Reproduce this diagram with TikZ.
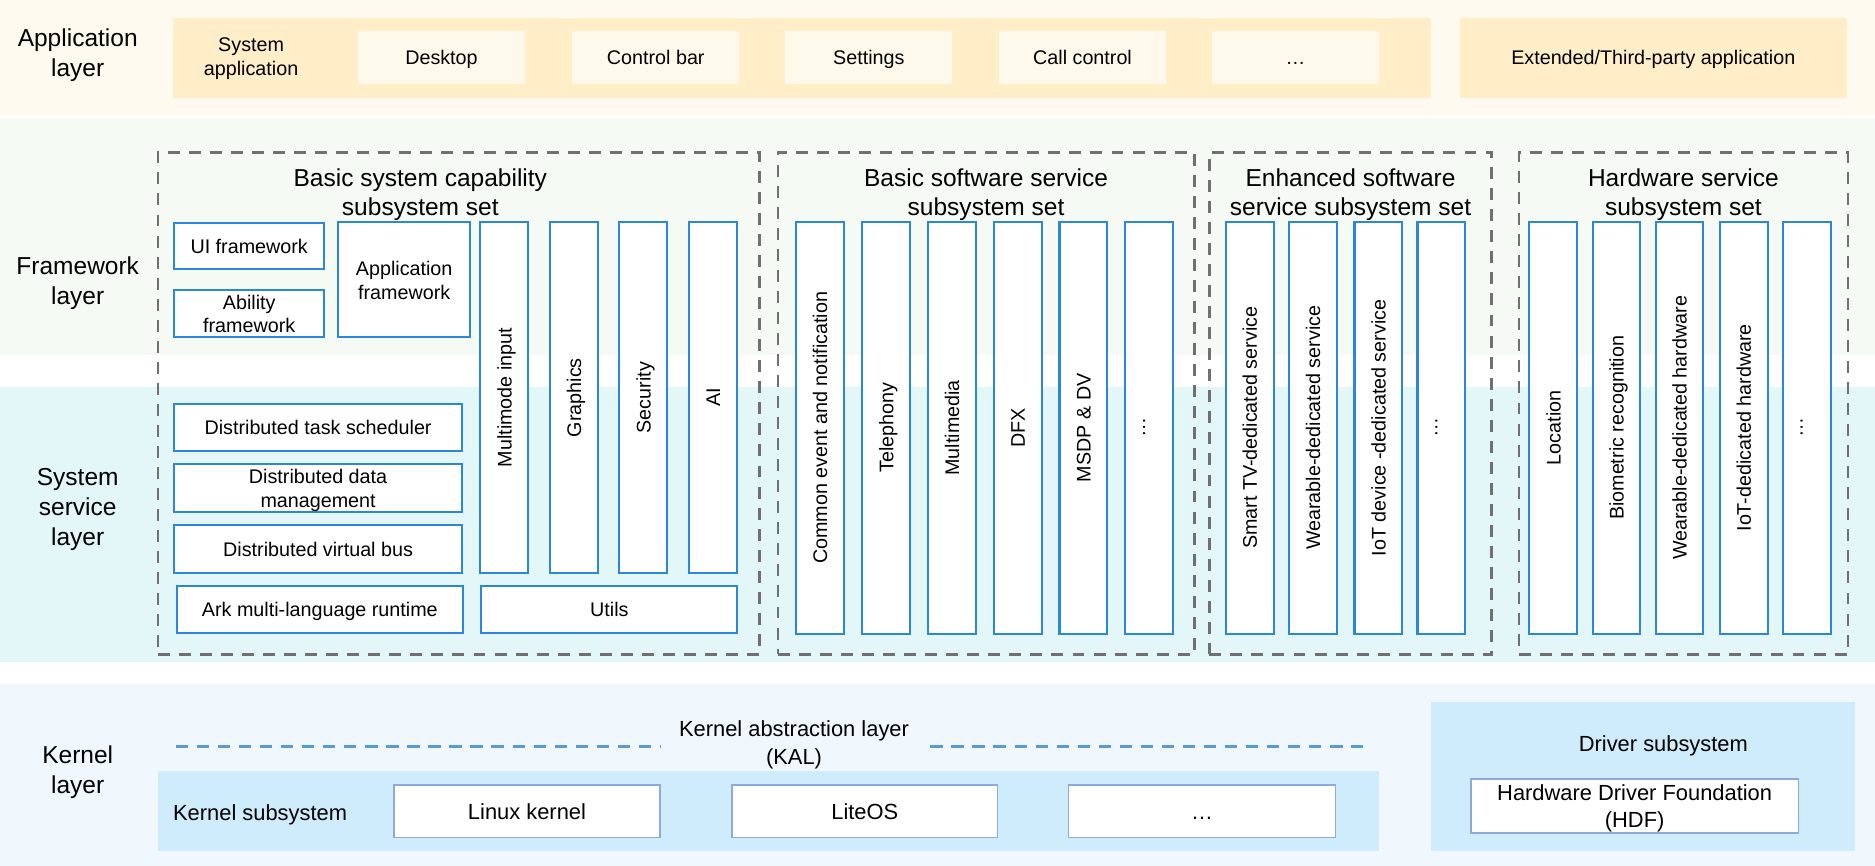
\documentclass[tikz,border=0pt]{standalone}
\usepackage{fontspec}
\setmainfont{Liberation Sans}
\definecolor{appbg}{HTML}{FFFAEF}
\definecolor{appgrp}{HTML}{FFEEC7}
\definecolor{appcell}{HTML}{FFF9EC}
\definecolor{fwbg}{HTML}{F5FAF5}
\definecolor{ssbg}{HTML}{E3F7F8}
\definecolor{kbg}{HTML}{F0F8FD}
\definecolor{ksubbg}{HTML}{CFECFC}
\definecolor{boxblue}{HTML}{2B87DA}
\definecolor{kline}{HTML}{8EAADB}
\definecolor{setgray}{HTML}{707070}
\definecolor{kaldash}{HTML}{5B9BD5}

\def\colH{344.5pt}
\def\colY{357.75}

\begin{document}
\begin{tikzpicture}[x=1pt,y=-1pt]
    \tikzset{
      layer/.style={align=center,font=\fontsize{20.5}{25}\selectfont,text height=45pt,text depth=4.3pt},
      settitle/.style={align=center,font=\fontsize{20.5}{25}\selectfont,text height=44.5pt,text depth=4.3pt},
      lbl/.style={align=center,font=\fontsize{16.5}{20}\selectfont,text height=15.5pt,text depth=3.5pt},
      two/.style={text height=36pt,text depth=3.5pt},
      klbl/.style={align=center,font=\fontsize{18.3}{23}\selectfont,text height=17.2pt,text depth=3.9pt},
      ktwo/.style={text height=40pt,text depth=3.9pt},
      cell/.style={lbl,fill=appcell,minimum width=139.6pt,minimum height=44pt,inner sep=0pt},
      blk/.style={lbl,draw=boxblue,line width=1.7pt,fill=white,inner sep=0pt},
      col/.style={blk,rotate=90,minimum height=40pt,minimum width=#1},
      col/.default=\colH,
      vdots/.style={rotate=180,text height=10pt,text depth=0pt},
      subset/.style={draw=setgray,line width=2.2pt,dash pattern=on 10pt off 7.6pt,
        minimum height=419.8pt,inner sep=0pt},
      kbox/.style={klbl,draw=kline,line width=1.3pt,fill=white,inner sep=0pt},
      kal/.style={draw=kaldash,line width=2.5pt,dash pattern=on 10.3pt off 7.3pt}
    }
    \useasboundingbox (0,0) rectangle (1568,724);
    \fill[white] (0,0) rectangle (1568,724);

    % layer bands
    \fill[appbg] (0,0) rectangle (1568,96.3);
    \fill[fwbg] (0,99) rectangle (1568,297);
    \fill[ssbg] (0,323.6) rectangle (1568,554);
    \fill[kbg] (0,572) rectangle (1568,724);

    \node[layer] (lapp) at (65,43.5) {Application\\layer};
    \node[layer] (lfw) at (65,234.5) {Framework\\layer};
    \node[layer,text height=70pt] (lss) at (65,423) {System\\service\\layer};
    \node[layer] (lk) at (65,643.5) {Kernel\\layer};

    % application layer
    \node[fill=appgrp,minimum width=1052pt,minimum height=66.7pt,inner sep=0pt] (sysapp) at (671,48.35) {};
    \node[lbl,two] (sysapplbl) at (210,47) {System\\application};
    \node[cell] (desk) at (369.2,48) {Desktop};
    \node[cell] (cbar) at (548.4,48) {Control bar};
    \node[cell] (sett) at (726.6,48) {Settings};
    \node[cell] (call) at (905.3,48) {Call control};
    \node[cell] (appmore) at (1083.3,48) {…};
    \node[lbl,fill=appgrp,minimum width=324pt,minimum height=66.7pt,inner sep=0pt] (ext) at (1382.6,48.35) {Extended/Third-party application};

    % subsystem sets
    \node[subset,minimum width=503.3pt] (set1) at (383.65,337.3) {};
    \node[subset,minimum width=348.2pt] (set2) at (824.6,337.3) {};
    \node[subset,minimum width=236.2pt] (set3) at (1129.4,337.3) {};
    \node[subset,minimum width=275.1pt] (set4) at (1407.75,337.3) {};
    \node[settitle] (t1) at (351.5,160.5) {Basic system capability\\subsystem set};
    \node[settitle] (t2) at (824.6,160.5) {Basic software service\\subsystem set};
    \node[settitle] (t3) at (1129.4,160.5) {Enhanced software\\service subsystem set};
    \node[settitle] (t4) at (1407.75,160.5) {Hardware service\\subsystem set};

    % basic system capability
    \node[blk,minimum width=125.7pt,minimum height=39pt] (ui) at (208.4,205.6) {UI framework};
    \node[blk,two,minimum width=125.7pt,minimum height=39.5pt] (ability) at (208.4,262.2) {Ability\\framework};
    \node[blk,two,minimum width=110pt,minimum height=96pt] (appfw) at (338,234) {Application\\framework};
    \node[col=293pt] (mmi) at (421.75,332.5) {Multimode input};
    \node[col=293pt] (gfx) at (480,332.5) {Graphics};
    \node[col=293pt] (sec) at (538,332.5) {Security};
    \node[col=293pt] (ai) at (596.3,332.5) {AI};
    \node[blk,minimum width=241pt,minimum height=39.4pt] (dts) at (266,357.3) {Distributed task scheduler};
    \node[blk,two,minimum width=241pt,minimum height=40pt] (ddm) at (266,408) {Distributed data\\management};
    \node[blk,minimum width=241pt,minimum height=40pt] (dvb) at (266,459) {Distributed virtual bus};
    \node[blk,minimum width=239pt,minimum height=39pt] (ark) at (267.5,509.5) {Ark multi-language runtime};
    \node[blk,minimum width=214pt,minimum height=39pt] (utils) at (509.6,509.5) {Utils};

    % basic software service
    \node[col] (cen) at (685.6,\colY) {Common event and notification};
    \node[col] (tel) at (741,\colY) {Telephony};
    \node[col] (mm) at (796,\colY) {Multimedia};
    \node[col] (dfx) at (851,\colY) {DFX};
    \node[col] (msdp) at (906,\colY) {MSDP \& DV};
    \node[col,vdots] (swmore) at (961,\colY) {…};

    % enhanced software service
    \node[col] (tv) at (1045,\colY) {Smart TV-dedicated service};
    \node[col] (wear) at (1098,\colY) {Wearable-dedicated service};
    \node[col] (iot) at (1152.7,\colY) {IoT device -dedicated service};
    \node[col,vdots] (enmore) at (1205.4,\colY) {…};

    % hardware service
    \node[col] (loc) at (1299,\colY) {Location};
    \node[col] (bio) at (1351.8,\colY) {Biometric recognition};
    \node[col] (wearhw) at (1404.5,\colY) {Wearable-dedicated hardware};
    \node[col] (iothw) at (1458.2,\colY) {IoT-dedicated hardware};
    \node[col,vdots] (hwmore) at (1510.8,\colY) {…};

    % kernel layer
    \coordinate (kalA) at (147,624.5);
    \coordinate (kalB) at (553,624.5);
    \coordinate (kalC) at (778,624.5);
    \coordinate (kalD) at (1140,624.5);
    \draw[kal] (kalA) -- (kalB);
    \draw[kal] (kalC) -- (kalD);
    \node[klbl,ktwo] (kallbl) at (664,621) {Kernel abstraction layer\\(KAL)};

    \node[fill=ksubbg,minimum width=1021pt,minimum height=66.5pt,inner sep=0pt] (ksub) at (642.5,678.25) {};
    \node[klbl] (ksublbl) at (217.5,679.6) {Kernel subsystem};
    \node[kbox,minimum width=222.6pt,minimum height=44pt] (linux) at (440.7,678.5) {Linux kernel};
    \node[kbox,minimum width=222pt,minimum height=44pt] (liteos) at (723.2,678.5) {LiteOS};
    \node[kbox,minimum width=223.4pt,minimum height=44pt] (kmore) at (1005.3,678.5) {…};

    \node[fill=ksubbg,minimum width=354.2pt,minimum height=125pt,inner sep=0pt] (drv) at (1373.9,649.5) {};
    \node[klbl] (drvlbl) at (1391,621.6) {Driver subsystem};
    \node[kbox,ktwo,minimum width=274pt,minimum height=45pt] (hdf) at (1367,674) {Hardware Driver Foundation\\(HDF)};
  \end{tikzpicture}
\end{document}
